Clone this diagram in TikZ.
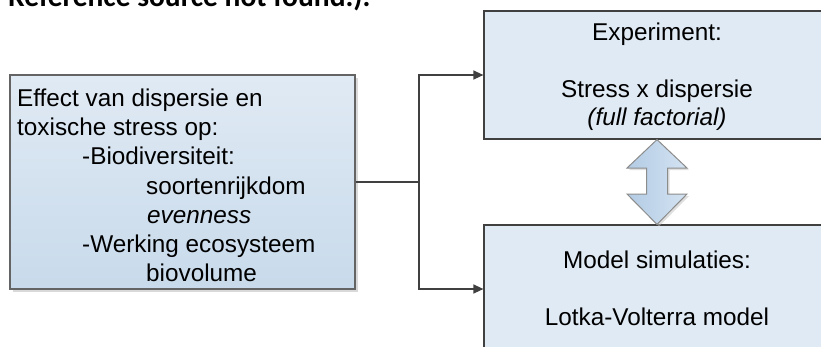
\documentclass[tikz,border=0pt]{standalone}
\usepackage{fontspec}
\setmainfont{Liberation Sans}
\newfontfamily\carlito{Carlito}
\usetikzlibrary{arrows.meta,shadows}
\definecolor{boxtop}{RGB}{224,234,244}
\definecolor{boxbot}{RGB}{200,218,235}
\definecolor{boxline}{RGB}{100,100,100}
\definecolor{conn}{RGB}{64,64,64}
\definecolor{arrL}{RGB}{178,203,228}
\definecolor{arrR}{RGB}{212,227,242}
\begin{document}
\begin{tikzpicture}[x=1pt,y=-1pt,
  box/.style={draw=boxline,line width=1.2pt,rectangle,inner sep=0pt},
  lbox/.style={box,top color=boxtop,bottom color=boxbot,
    drop shadow={shadow xshift=3pt,shadow yshift=-3pt,fill=black!25,opacity=0.6}},
  rbox/.style={box,draw=conn,fill=boxtop},
  txt/.style={inner sep=0pt,font=\fontsize{24.3}{29}\selectfont},
  conline/.style={draw=conn,line width=1.3pt},
  tip/.style={-{Triangle[length=10pt,width=9pt]}}]
\useasboundingbox (0,0) rectangle (821,346);
\clip (0,0) rectangle (821,346);
% clipped caption fragment at top
\node[inner sep=0pt,anchor=base west,font=\carlito\bfseries\fontsize{29.5}{34}\selectfont] (cap) at (8,6) {Reference source not found.).};
% boxes
\node[lbox,minimum width=345pt,minimum height=214pt] (L) at (182.5,182) {};
\node[rbox,minimum width=346pt,minimum height=128pt] (E) at (657,75) {};
\node[rbox,minimum width=346pt,minimum height=128pt] (M) at (657,289) {};
% left text
\node[txt,anchor=base west] (t1) at (17,106.5) {Effect van dispersie en};
\node[txt,anchor=base west] (t2) at (17,135.7) {toxische stress op:};
\node[txt,anchor=base west] (t3) at (82,164.9) {-Biodiversiteit:};
\node[txt,anchor=base west] (t4) at (146,194.1) {soortenrijkdom};
\node[txt,anchor=base west] (t5) at (147,223.3) {\itshape evenness};
\node[txt,anchor=base west] (t6) at (82,252.5) {-Werking ecosysteem};
\node[txt,anchor=base west] (t7) at (146,281.7) {biovolume};
% right text
\node[txt,anchor=base] (e1) at (657,40) {Experiment:};
\node[txt,anchor=base] (e2) at (657,97) {Stress x dispersie};
\node[txt,anchor=base] (e3) at (657,125.5) {\itshape (full factorial)};
\node[txt,anchor=base] (m1) at (657,268) {Model simulaties:};
\node[txt,anchor=base] (m2) at (657,325) {Lotka-Volterra model};
% connectors
\coordinate (j) at (419,182);
\draw[conline] (L.east) -- (j);
\draw[conline,tip] (j) |- (E.west);
\draw[conline,tip] (j) |- (M.west);
% double arrow
\draw[draw=black!45,line width=1pt,left color=arrL,right color=arrR,
  drop shadow={shadow xshift=2pt,shadow yshift=-2pt,fill=black!25,opacity=0.5}]
  (E.south) -- (627,168) -- (646.5,168) -- (646.5,194) -- (627,194)
  -- (M.north) -- (687,194) -- (667.5,194) -- (667.5,168) -- (687,168) -- cycle;
\end{tikzpicture}
\end{document}
